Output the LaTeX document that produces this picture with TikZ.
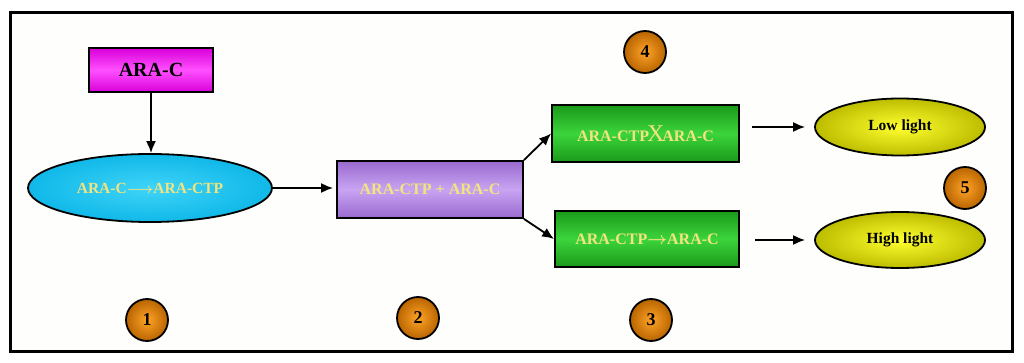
\documentclass[tikz,border=0pt]{standalone}
\usepackage{amsmath}
\usepackage{fontspec}
\setmainfont{Liberation Serif}
\usetikzlibrary{arrows.meta,shapes.geometric}
\definecolor{bgc}{HTML}{FEFEFC}
\definecolor{magd}{HTML}{D800D8}
\definecolor{magl}{HTML}{FF50FF}
\definecolor{cyand}{HTML}{10B8E8}
\definecolor{cyanl}{HTML}{40D4F8}
\definecolor{purd}{HTML}{9A6AD0}
\definecolor{purl}{HTML}{C8A4F2}
\definecolor{grd}{HTML}{1A9A1A}
\definecolor{grl}{HTML}{3CD43C}
\definecolor{yed}{HTML}{BDBD00}
\definecolor{yel}{HTML}{FFFF30}
\definecolor{ord}{HTML}{B86400}
\definecolor{orl}{HTML}{FFA428}
\definecolor{txy}{HTML}{F2E47E}
\begin{document}
\begin{tikzpicture}[x=1pt,y=-1pt,
  box/.style={draw=black, line width=1.8pt, rectangle, inner sep=0pt, font=\fontsize{16}{16}\selectfont\bfseries, text=txy},
  ell/.style={draw=black, line width=1.8pt, ellipse, inner sep=0pt, font=\fontsize{15.5}{15.5}\selectfont\bfseries},
  num/.style={draw=black, line width=1.8pt, circle, minimum size=42pt, inner sep=0pt, inner color=orl, outer color=ord, font=\fontsize{18}{18}\selectfont\bfseries},
  arr/.style={line width=1.8pt, -{Latex[length=12pt,width=10pt]}}
]
\useasboundingbox (0,0) rectangle (1024,363);
\draw[line width=3pt, fill=bgc] (10,13) rectangle (1012,351);

\node[box, minimum width=124pt, minimum height=44pt, top color=magd, bottom color=magd, middle color=magl, text=black, font=\fontsize{20}{20}\selectfont\bfseries] (arac) at (151,70) {ARA-C};
\node[ell, minimum width=244pt, minimum height=68pt, inner color=cyanl, outer color=cyand, text=txy] (conv) at (150,188) {ARA-C$\boldsymbol{\longrightarrow}$ARA-CTP};
\node[box, minimum width=186pt, minimum height=57pt, top color=purd, bottom color=purd, middle color=purl] (mix) at (430,189.5) {ARA-CTP + ARA-C};
\node[box, minimum width=187pt, minimum height=57pt, top color=grd, bottom color=grd, middle color=grl] (g1) at (645.5,133.5) {ARA-CTP\kern-2pt{\fontsize{24}{24}\selectfont\mdseries X}\kern-2pt ARA-C};
\node[box, minimum width=184pt, minimum height=56pt, top color=grd, bottom color=grd, middle color=grl] (g2) at (647,239) {ARA-CTP$\boldsymbol{\rightarrow}$ARA-C};
\node[ell, minimum width=170pt, minimum height=57pt, inner color=yel, outer color=yed, text=black] (low) at (900,127) {Low light};
\node[ell, minimum width=170pt, minimum height=56pt, inner color=yel, outer color=yed, text=black] (high) at (900,240) {High light};

\node[num] (n1) at (147,320) {1};
\node[num] (n2) at (418,318) {2};
\node[num] (n3) at (651,320) {3};
\node[num] (n4) at (645,52) {4};
\node[num] (n5) at (965,188) {5};

\draw[arr] (arac.south) -- (arac.south |- conv.north);
\draw[arr, shorten >=3pt] (conv.east) -- (conv.east -| mix.west);
\draw[arr] (mix.north east) -- (g1.west);
\draw[arr] (mix.south east) -- (g2.west);
\draw[arr, shorten <=12pt, shorten >=9pt] (g1.east |- low.west) -- (low.west);
\draw[arr, shorten <=15pt, shorten >=9pt] (g2.east |- high.west) -- (high.west);
\end{tikzpicture}
\end{document}
